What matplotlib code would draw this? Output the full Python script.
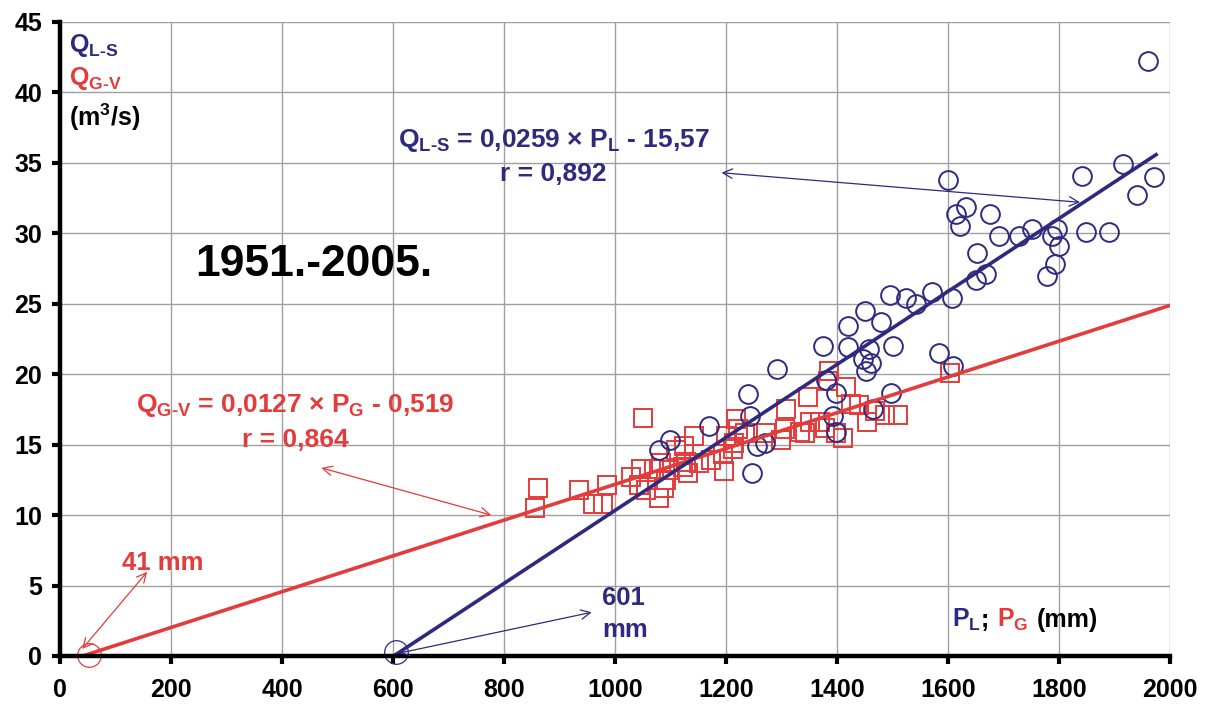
import matplotlib
matplotlib.use("Agg")
from matplotlib import pyplot as plt
from matplotlib.transforms import offset_copy

plt.rcParams['font.family'] = ['Liberation Sans', 'DejaVu Sans']
plt.rcParams['font.weight'] = 'bold'
plt.rcParams['mathtext.fontset'] = 'custom'
plt.rcParams['mathtext.rm'] = 'Liberation Sans:bold'
plt.rcParams['mathtext.it'] = 'Liberation Sans:bold'
plt.rcParams['mathtext.bf'] = 'Liberation Sans:bold'
plt.rcParams['mathtext.default'] = 'rm'

BLUE = '#2d2a7f'
RED = '#e43b3b'

# Q_L-S (m3/s) vs P_L (mm), 1951-2005
p_l = [1960, 1600, 1842, 1915, 1972, 1940, 1632, 1615, 1621, 1675, 1692,
       1728, 1752, 1787, 1797, 1800, 1849, 1891, 1793, 1779, 1653, 1669,
       1650, 1495, 1525, 1542, 1571, 1608, 1450, 1480, 1419, 1374, 1419,
       1458, 1501, 1446, 1462, 1452, 1292, 1584, 1609, 1240, 1243, 1170,
       1100, 1079, 1255, 1271, 1247, 1381, 1399, 1498, 1465, 1393, 1398]
q_ls = [42.2, 33.8, 34.1, 34.9, 34.0, 32.7, 31.9, 31.4, 30.5, 31.4, 29.8,
        29.8, 30.3, 29.8, 30.3, 29.1, 30.1, 30.1, 27.8, 27.0, 28.6, 27.1,
        26.7, 25.6, 25.4, 25.0, 25.8, 25.4, 24.5, 23.7, 23.4, 22.0, 21.9,
        21.8, 22.0, 21.1, 20.8, 20.2, 20.4, 21.5, 20.6, 18.6, 17.0, 16.3,
        15.3, 14.6, 14.9, 15.1, 13.0, 19.6, 18.7, 18.7, 17.5, 17.0, 15.9]

# Q_G-V (m3/s) vs P_G (mm)
p_g = [856, 861, 935, 960, 978, 985, 1029, 1044, 1047, 1050, 1056, 1071,
       1080, 1089, 1092, 1083, 1097, 1110, 1125, 1122, 1131, 1128, 1143,
       1152, 1173, 1197, 1194, 1200, 1213, 1218, 1221, 1215, 1273, 1300,
       1309, 1306, 1333, 1342, 1348, 1351, 1369, 1378, 1399, 1411, 1426,
       1386, 1384, 1416, 1440, 1468, 1486, 1510, 1455, 1603, 1234]
q_gv = [10.5, 11.9, 11.8, 10.8, 10.8, 12.1, 12.7, 12.1, 13.3, 16.9, 11.8,
        13.3, 11.2, 11.9, 12.5, 13.7, 13.2, 14.6, 14.9, 13.4, 13.0, 13.8,
        15.6, 13.7, 13.9, 13.1, 14.3, 15.6, 14.7, 16.8, 16.1, 15.1, 15.8,
        15.3, 17.5, 16.1, 15.9, 15.8, 18.4, 16.6, 16.6, 16.2, 15.8, 15.5,
        17.9, 20.2, 19.5, 19.1, 17.8, 17.4, 17.1, 17.1, 16.6, 20.1, 15.8]

# regression lines
a_l, b_l = 0.0259, -15.57
a_g, b_g = 0.0127, -0.519
line_l_x = [601, 1975]
line_g_x = [41, 2000]

fig = plt.figure(figsize=(12.08, 7.09), dpi=100)
ax = fig.add_axes([0.0497, 0.0748, 0.9188, 0.8942])

ax.set_xlim(0, 2000)
ax.set_ylim(0, 45)
ax.set_xticks(range(0, 2001, 200))
ax.set_yticks(range(0, 46, 5))
ax.grid(True, color='#a0a0a0', lw=1.0)
ax.set_axisbelow(True)
for s in ['top', 'right']:
    ax.spines[s].set_visible(False)
for s in ['left', 'bottom']:
    ax.spines[s].set_linewidth(3.2)
ax.tick_params(axis='both', direction='out', length=6, width=3,
               labelsize=18)
ax.tick_params(axis='x', pad=10)
ax.tick_params(axis='y', pad=7)
for lab in ax.get_xticklabels() + ax.get_yticklabels():
    lab.set_fontweight('bold')

ax.plot(p_g, q_gv, ls='none', marker='s', ms=13, mfc='none', mec=RED,
        mew=1.4)
ax.plot(p_l, q_ls, ls='none', marker='o', ms=13.5, mfc='none', mec=BLUE,
        mew=1.4)

ax.plot(line_g_x, [a_g * x + b_g for x in line_g_x], color=RED, lw=2.6)
ax.plot(line_l_x, [a_l * x + b_l for x in line_l_x], color=BLUE, lw=2.6)

# intercept markers
ax.plot([52], [0.1], marker='o', ms=17, mfc='none', mec=RED, mew=0.9,
        clip_on=False)
ax.plot([606], [0.3], marker='o', ms=17, mfc='none', mec=BLUE, mew=0.9,
        clip_on=False)

# labels
ax.text(16, 42.9, r'Q$_{L\text{-}S}$', color=BLUE, fontsize=18,
        va='baseline')
ax.text(16, 40.5, r'Q$_{G\text{-}V}$', color=RED, fontsize=18,
        va='baseline')
ax.text(16, 37.6, r'(m$^3$/s)', color='black', fontsize=18,
        va='baseline')

ax.text(458, 27.8, '1951.-2005.', fontsize=32, fontweight='bold',
        ha='center', va='center')

ax.text(889, 36.6, r'Q$_{L\text{-}S}$ = 0,0259 × P$_L$ - 15,57',
        color=BLUE, fontsize=19, ha='center', va='center')
ax.text(889, 34.2, 'r = 0,892', color=BLUE, fontsize=19, ha='center',
        va='center')
ax.text(424, 17.8, r'Q$_{G\text{-}V}$ = 0,0127 × P$_G$ - 0,519',
        color=RED, fontsize=19, ha='center', va='center')
ax.text(424, 15.3, 'r = 0,864', color=RED, fontsize=19, ha='center',
        va='center')

ax.text(112, 6.6, '41 mm', color=RED, fontsize=18.5, va='center')
ax.text(977, 4.1, '601', color=BLUE, fontsize=18.5, va='center')
ax.text(977, 1.85, 'mm', color=BLUE, fontsize=18.5, va='center')

# x axis label, pieces in different colours placed one after another
renderer = fig.canvas.get_renderer()
dx = 0
for piece, col in [(r'P$_L$', BLUE), (';', 'black'), (r'P$_G$', RED),
                   ('(mm)', 'black')]:
    tr = offset_copy(ax.transData, fig=fig, x=dx, y=0, units='dots')
    t = ax.text(1607, 2.05, piece, color=col, fontsize=18, va='baseline',
                transform=tr)
    w = t.get_window_extent(renderer).width
    if piece in (';', r'P$_G$'):
        w += 8
    dx += w

# arrows
arw = dict(arrowstyle='<->', lw=0.9, shrinkA=0, shrinkB=0,
           mutation_scale=17)
ax.annotate('', xy=(1192, 34.3), xytext=(1838, 32.2),
            arrowprops=dict(arw, color=BLUE))
ax.annotate('', xy=(471, 13.35), xytext=(777, 10.0),
            arrowprops=dict(arw, color=RED))
ax.annotate('', xy=(157, 5.97), xytext=(40, 0.5),
            arrowprops=dict(arw, color=RED))
ax.annotate('', xy=(958, 3.1), xytext=(611, 0.2),
            arrowprops=dict(arw, color=BLUE))

fig.savefig('out.png', dpi=100)
